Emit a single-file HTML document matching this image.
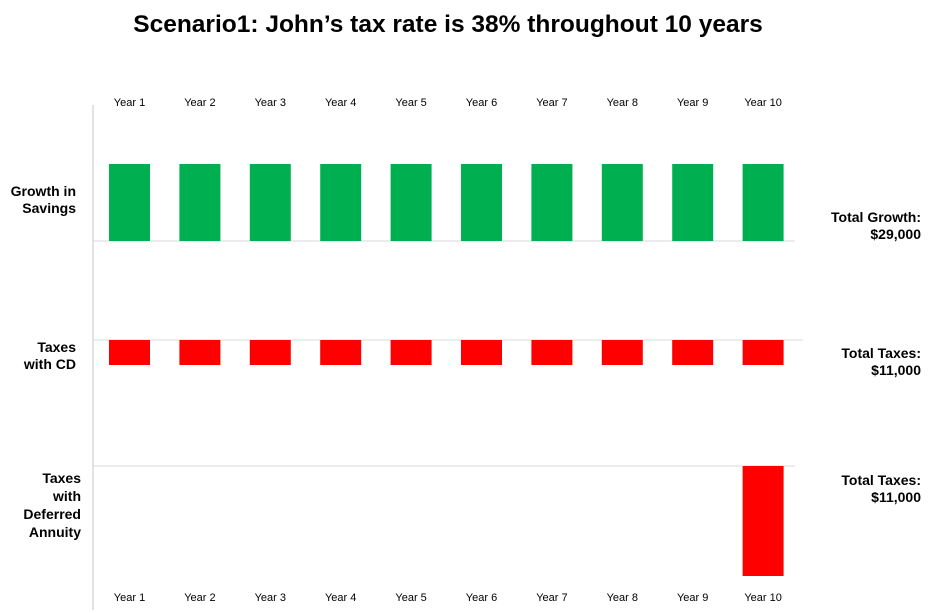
<!DOCTYPE html>
<html><head><meta charset="utf-8"><style>
body{margin:0;background:#fff}
svg{display:block;font-family:"Liberation Sans",sans-serif}
</style></head><body>
<svg width="930" height="613" viewBox="0 0 930 613">
<text x="448" y="32" text-anchor="middle" font-size="24.5" font-weight="bold" fill="#000">Scenario1: John’s tax rate is 38% throughout 10 years</text>
<line x1="93" y1="105" x2="93" y2="610" stroke="#d9d9d9" stroke-width="1.5"/>
<g id="marks"></g>
<g font-size="14" font-weight="bold" text-anchor="end" fill="#000">
<text x="76" y="196"><tspan x="76">Growth in</tspan><tspan x="76" dy="17">Savings</tspan></text>
<text x="76" y="352"><tspan x="76">Taxes</tspan><tspan x="76" dy="17">with CD</tspan></text>
<text x="81" y="483"><tspan x="81">Taxes</tspan><tspan x="81" dy="18">with</tspan><tspan x="81" dy="18">Deferred</tspan><tspan x="81" dy="18">Annuity</tspan></text>
<text x="921" y="222"><tspan x="921">Total Growth:</tspan><tspan x="921" dy="17">$29,000</tspan></text>
<text x="921" y="358"><tspan x="921">Total Taxes:</tspan><tspan x="921" dy="17">$11,000</tspan></text>
<text x="921" y="485"><tspan x="921">Total Taxes:</tspan><tspan x="921" dy="17">$11,000</tspan></text>
</g>
</svg>
<script>
const years=["Year 1","Year 2","Year 3","Year 4","Year 5","Year 6","Year 7","Year 8","Year 9","Year 10"];
const growth=[2900,2900,2900,2900,2900,2900,2900,2900,2900,2900];
const cdTaxes=[1100,1100,1100,1100,1100,1100,1100,1100,1100,1100];
const annuityTaxes=[0,0,0,0,0,0,0,0,0,11000];
const NS="http://www.w3.org/2000/svg";
const g=document.getElementById('marks');
const x=i=>109+i*70.4;
const bw=41;
function mk(tag,a){const e=document.createElementNS(NS,tag);for(const k in a)e.setAttribute(k,a[k]);g.appendChild(e);return e;}
let l=mk('line',{x1:93,y1:241,x2:795,y2:241,stroke:'#d9d9d9'});


l=mk('line',{x1:93,y1:340,x2:803,y2:340,stroke:'#d9d9d9'});


l=mk('line',{x1:93,y1:466,x2:795,y2:466,stroke:'#d9d9d9'});


const gScale=v=>v*77/2900, cScale=v=>v*25/1100, aScale=v=>v*110/11000;
years.forEach((yr,i)=>{
  let h=gScale(growth[i]);
  let r=mk('rect',{x:x(i),y:241-h,width:bw,height:h,fill:'#00b050'});
  
  
  h=cScale(cdTaxes[i]);
  r=mk('rect',{x:x(i),y:340,width:bw,height:h,fill:'#ff0000'});
  
  
  h=aScale(annuityTaxes[i]);
  if(h>0){r=mk('rect',{x:x(i),y:466,width:bw,height:h,fill:'#ff0000'});
  
  }
  let t=mk('text',{x:x(i)+bw/2,y:106,'text-anchor':'middle','font-size':11,fill:'#000'});
  t.textContent=yr;
  
  
  t=mk('text',{x:x(i)+bw/2,y:601,'text-anchor':'middle','font-size':11,fill:'#000'});
  t.textContent=yr;
  
  
});
</script>
</body></html>
